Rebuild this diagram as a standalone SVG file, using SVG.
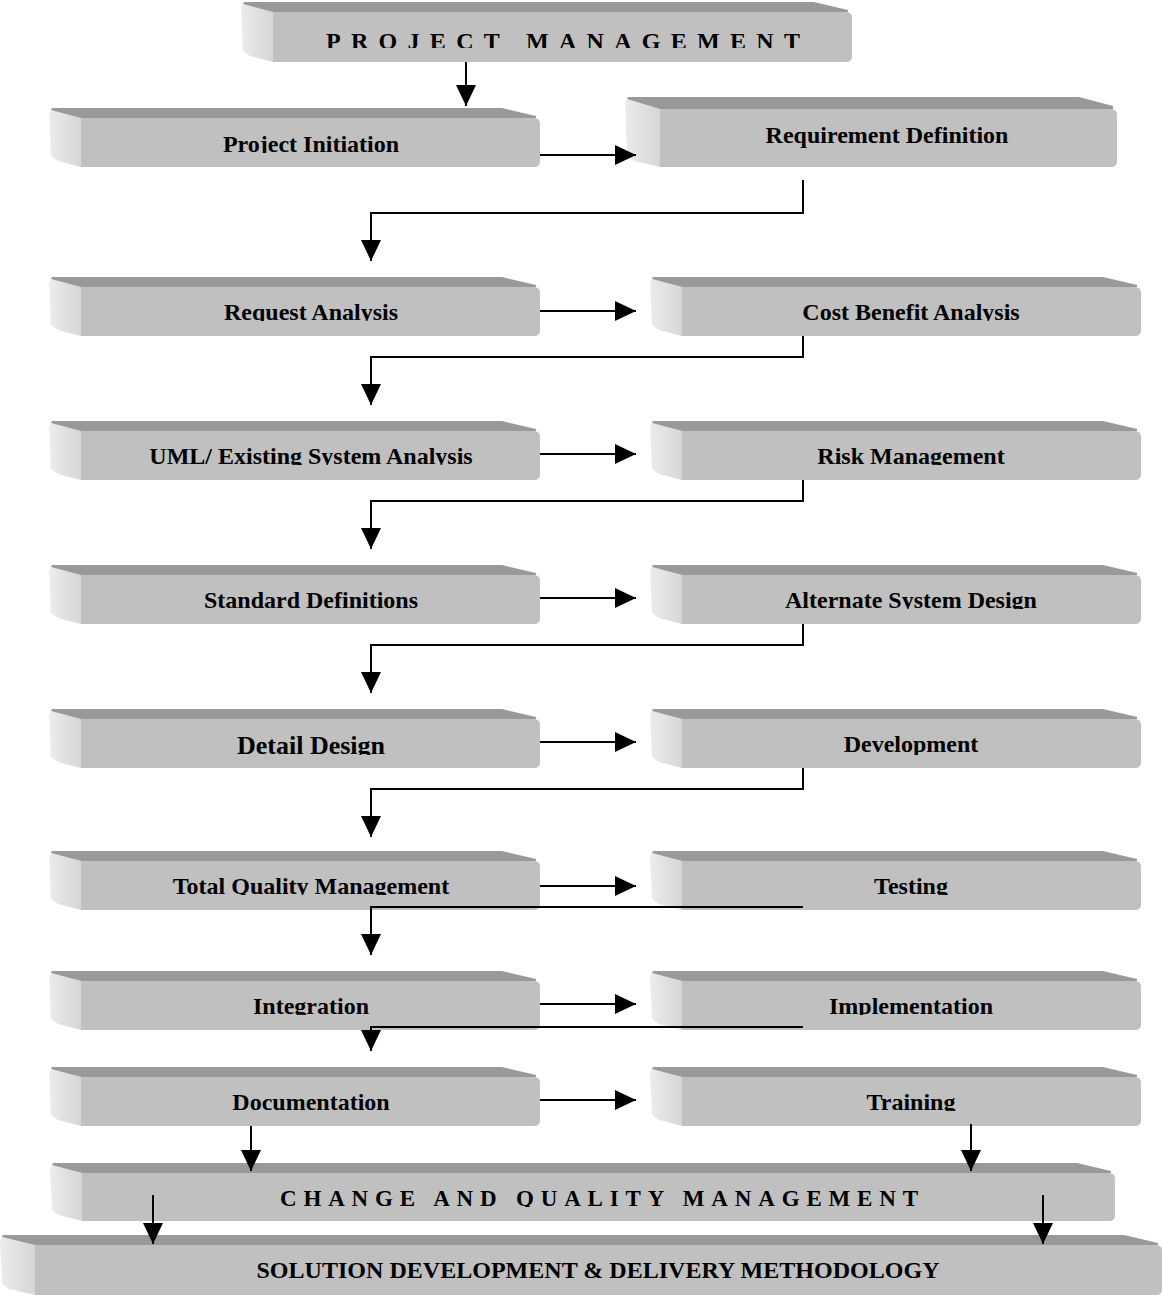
<svg xmlns="http://www.w3.org/2000/svg" xmlns:xlink="http://www.w3.org/1999/xlink" width="1163" height="1296" viewBox="0 0 1163 1296">
<style>
.lf{fill:url(#gl)}
.tp{fill:#999999}
.fr{fill:#c0c0c0}
.t{font-family:"Liberation Serif","Times New Roman",serif;font-weight:bold;font-size:24px;fill:#000;text-anchor:middle}
.c{fill:none;stroke:#000;stroke-width:2;marker-end:url(#ah)}
</style>
<defs>
<linearGradient id="gl" x1="0" y1="0" x2="1" y2="0">
<stop offset="0" stop-color="#ececec"/>
<stop offset="1" stop-color="#d6d6d6"/>
</linearGradient>
<marker id="ah" markerUnits="userSpaceOnUse" markerWidth="22" markerHeight="20" refX="21" refY="10" orient="auto">
<path d="M0,0 L21,10 L0,20 Z" fill="#000"/>
</marker>
<g id="box">
<polygon class="lf" points="2,2 32,10 32,59 9,53 2,48 0,6"/>
<polygon class="tp" points="3,0 453,0 487,8 487,10 32,10 2,2"/>
<path class="fr" d="M32,10 H485 Q491,10 491,16 V53 Q491,59 485,59 H32 Z"/>
</g>
<clipPath id="k0"><rect x="0" y="0" width="1163" height="48"/></clipPath>
<clipPath id="k1"><rect x="0" y="100" width="1163" height="53"/></clipPath>
<clipPath id="k2"><rect x="0" y="270" width="1163" height="51"/></clipPath>
<clipPath id="k3"><rect x="0" y="410" width="1163" height="55"/></clipPath>
<clipPath id="k4"><rect x="0" y="555" width="1163" height="54"/></clipPath>
<clipPath id="k5"><rect x="0" y="700" width="1163" height="55"/></clipPath>
<clipPath id="k6"><rect x="0" y="840" width="1163" height="55"/></clipPath>
<clipPath id="k7"><rect x="0" y="960" width="1163" height="55"/></clipPath>
<clipPath id="k8"><rect x="0" y="1060" width="1163" height="51"/></clipPath>
<clipPath id="k9"><rect x="0" y="1160" width="1163" height="47"/></clipPath>
</defs>

<g id="n-project-management">
<polygon class="lf" points="243,4 273,12 273,62 250,56 243,51 241,8"/>
<polygon class="tp" points="244,2 814,2 848,10 848,12 273,12 243,4"/>
<path class="fr" d="M273,12 H846 Q852,12 852,18 V56 Q852,62 846,62 H273 Z"/>
<text class="t" x="563" y="49" textLength="474" lengthAdjust="spacing" clip-path="url(#k0)">PROJECT MANAGEMENT</text>
</g>

<g id="n-project-initiation">
<use xlink:href="#box" href="#box" x="49" y="108"/>
<text class="t" x="311" y="152" clip-path="url(#k1)">Project Initiation</text>
</g>

<g id="n-requirement-definition">
<polygon class="lf" points="627,99 660,109 660,167 634,161 627,156 625,103"/>
<polygon class="tp" points="628,97 1079,97 1113,106 1113,109 660,109 627,99"/>
<path class="fr" d="M660,109 H1111 Q1117,109 1117,115 V161 Q1117,167 1111,167 H660 Z"/>
<text class="t" x="887" y="143">Requirement Definition</text>
</g>

<g id="n-request-analysis">
<use xlink:href="#box" href="#box" x="49" y="277"/>
<text class="t" x="311" y="320" clip-path="url(#k2)">Request Analysis</text>
</g>
<g id="n-cost-benefit-analysis">
<use xlink:href="#box" href="#box" x="650" y="277"/>
<text class="t" x="911" y="320" clip-path="url(#k2)">Cost Benefit Analysis</text>
</g>

<g id="n-uml">
<use xlink:href="#box" href="#box" x="49" y="421"/>
<text class="t" x="311" y="464" clip-path="url(#k3)">UML/ Existing System Analysis</text>
</g>
<g id="n-risk-management">
<use xlink:href="#box" href="#box" x="650" y="421"/>
<text class="t" x="911" y="464" clip-path="url(#k3)">Risk Management</text>
</g>

<g id="n-standard-definitions">
<use xlink:href="#box" href="#box" x="49" y="565"/>
<text class="t" x="311" y="608" clip-path="url(#k4)">Standard Definitions</text>
</g>
<g id="n-alternate-system-design">
<use xlink:href="#box" href="#box" x="650" y="565"/>
<text class="t" x="911" y="608" clip-path="url(#k4)">Alternate System Design</text>
</g>

<g id="n-detail-design">
<use xlink:href="#box" href="#box" x="49" y="709"/>
<text class="t" x="311" y="754" style="font-size:26px" clip-path="url(#k5)">Detail Design</text>
</g>
<g id="n-development">
<use xlink:href="#box" href="#box" x="650" y="709"/>
<text class="t" x="911" y="752" clip-path="url(#k5)">Development</text>
</g>

<g id="n-total-quality-management">
<use xlink:href="#box" href="#box" x="49" y="851"/>
<text class="t" x="311" y="894" clip-path="url(#k6)">Total Quality Management</text>
</g>
<g id="n-testing">
<use xlink:href="#box" href="#box" x="650" y="851"/>
<text class="t" x="911" y="894" clip-path="url(#k6)">Testing</text>
</g>

<g id="n-integration">
<use xlink:href="#box" href="#box" x="49" y="971"/>
<text class="t" x="311" y="1014" clip-path="url(#k7)">Integration</text>
</g>
<g id="n-implementation">
<use xlink:href="#box" href="#box" x="650" y="971"/>
<text class="t" x="911" y="1014" clip-path="url(#k7)">Implementation</text>
</g>

<g id="n-documentation">
<use xlink:href="#box" href="#box" x="49" y="1067"/>
<text class="t" x="311" y="1110" clip-path="url(#k8)">Documentation</text>
</g>
<g id="n-training">
<use xlink:href="#box" href="#box" x="650" y="1067"/>
<text class="t" x="911" y="1110" clip-path="url(#k8)">Training</text>
</g>

<g id="n-change-quality-management">
<polygon class="lf" points="52,1165 82,1173 82,1221 59,1215 52,1210 50,1169"/>
<polygon class="tp" points="53,1163 1077,1163 1111,1171 1111,1173 82,1173 52,1165"/>
<path class="fr" d="M82,1173 H1109 Q1115,1173 1115,1179 V1215 Q1115,1221 1109,1221 H82 Z"/>
<text class="t" x="599" y="1206" style="font-size:23px" textLength="638" lengthAdjust="spacing" clip-path="url(#k9)">CHANGE  AND QUALITY MANAGEMENT</text>
</g>

<g id="n-solution-development">
<polygon class="lf" points="2,1237 35,1245 35,1295 9,1289 2,1284 0,1241"/>
<polygon class="tp" points="3,1235 1124,1235 1158,1243 1158,1245 35,1245 2,1237"/>
<path class="fr" d="M35,1245 H1156 Q1162,1245 1162,1251 V1289 Q1162,1295 1156,1295 H35 Z"/>
<text class="t" x="598" y="1278" style="font-size:23px" textLength="683" lengthAdjust="spacingAndGlyphs">SOLUTION DEVELOPMENT &amp; DELIVERY METHODOLOGY</text>
</g>

<g id="connectors">
<path class="c" d="M466,62 V106"/>
<path class="c" d="M540,155 H636"/>
<path class="c" d="M803,180 V213 H371 V261"/>
<path class="c" d="M540,311 H636"/>
<path class="c" d="M803,336 V357 H371 V405"/>
<path class="c" d="M540,454 H636"/>
<path class="c" d="M803,480 V501 H371 V549"/>
<path class="c" d="M540,598 H636"/>
<path class="c" d="M803,624 V645 H371 V693"/>
<path class="c" d="M540,742 H636"/>
<path class="c" d="M803,768 V789 H371 V837"/>
<path class="c" d="M540,886 H636"/>
<path class="c" d="M803,907 H371 V955"/>
<path class="c" d="M540,1004 H636"/>
<path class="c" d="M803,1027 H371 V1051"/>
<path class="c" d="M540,1100 H636"/>
<path class="c" d="M251,1126 V1171"/>
<path class="c" d="M971,1124 V1171"/>
<path class="c" d="M153,1195 V1244"/>
<path class="c" d="M1043,1195 V1244"/>
</g>
</svg>
